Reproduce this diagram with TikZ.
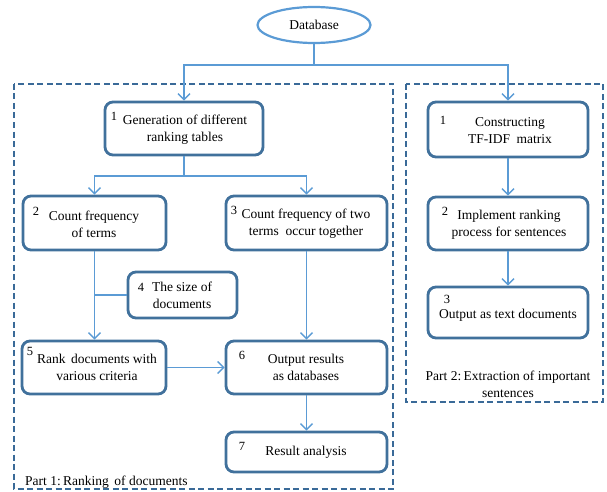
\documentclass[tikz,border=0pt]{standalone}
\usepackage{fontspec}
\setmainfont{Liberation Serif}
\usetikzlibrary{arrows.meta,shapes.geometric}
\definecolor{boxblue}{HTML}{41719C}
\definecolor{linkblue}{HTML}{5B9BD5}
\definecolor{frameblue}{HTML}{3A6A98}
\begin{document}
\begin{tikzpicture}[x=1pt,y=-1pt,
  every node/.style={font=\fontsize{13.5}{17}\selectfont, text=black},
  stepbox/.style={draw=boxblue, line width=2.8pt, rounded corners=8pt, fill=white, inner sep=0pt},
  link/.style={draw=linkblue, line width=1.4pt},
  arr/.style={link, -{Straight Barb[length=6pt,width=12pt,line width=1.4pt]}},
  frame/.style={draw=frameblue, line width=1.2pt, dash pattern=on 6pt off 3.5pt},
  num/.style={inner sep=0pt, font=\fontsize{12.5}{14}\selectfont},
  txt/.style={inner sep=0pt, align=center}]
\useasboundingbox (0,0) rectangle (607,492);
% frames
\draw[frame] (14,84) rectangle (393,489);
\draw[frame] (406,84) rectangle (603,402);
% database
\node[ellipse, draw=linkblue, line width=2.2pt, minimum width=113pt, minimum height=36pt, inner sep=0pt] (db) at (314,25) {Database};
% part 1 boxes
\node[stepbox, minimum width=158pt, minimum height=53pt] (b1) at (184,128.5) {};
\node[stepbox, minimum width=143pt, minimum height=54pt] (b2) at (94.5,223) {};
\node[stepbox, minimum width=161pt, minimum height=54pt] (b3) at (306.5,223) {};
\node[stepbox, minimum width=109pt, minimum height=46pt] (b4) at (182.5,295) {};
\node[stepbox, minimum width=144pt, minimum height=53pt] (b5) at (94,367.5) {};
\node[stepbox, minimum width=161pt, minimum height=53pt] (b6) at (306.5,367.5) {};
\node[stepbox, minimum width=161pt, minimum height=40pt] (b7) at (306.5,452) {};
% part 2 boxes
\node[stepbox, minimum width=160pt, minimum height=55pt] (r1) at (508,129.5) {};
\node[stepbox, minimum width=160pt, minimum height=53pt] (r2) at (508,223.5) {};
\node[stepbox, minimum width=160pt, minimum height=51pt] (r3) at (508,312.5) {};
% texts
\node[txt] (t1) at (185,129.5) {Generation of different\\ranking tables};
\node[txt] (t2) at (94,224) {Count frequency\\of terms};
\node[txt] (t3) at (306,224) {Count frequency of two\\terms\ \ occur together};
\node[txt] (t4) at (182,295) {The size of\\documents};
\node[txt] (t5) at (97,367.5) {Rank\ \,documents with\\various criteria};
\node[txt] (t6) at (306,367.5) {Output results\\as databases};
\node[txt] (t7) at (306,452) {Result analysis};
\node[txt] (u1) at (510,130.5) {Constructing\\TF-IDF\ \ matrix};
\node[txt] (u2) at (509,224.5) {Implement ranking\\process for sentences};
\node[txt] (u3) at (508,315) {Output as text documents};
% numbers
\node[num] (n1) at (114,116) {1};
\node[num] (n2) at (36,211) {2};
\node[num] (n3) at (234,210) {3};
\node[num] (n4) at (141,287) {4};
\node[num] (n5) at (30,351) {5};
\node[num] (n6) at (242,355) {6};
\node[num] (n7) at (242,446) {7};
\node[num] (m1) at (443,120) {1};
\node[num] (m2) at (445,211) {2};
\node[num] (m3) at (447,299) {3};
% captions
\node[txt, anchor=west] (c1) at (25,482) {Part 1:\,Ranking\ \,of documents};
\node[txt] (c2) at (508,384) {Part 2:\,Extraction of important\\sentences};
% connectors
\coordinate (j0) at (314,65);
\coordinate (j1) at (184,176);
\draw[link] (db.south) -- (j0);
\draw[arr] (j0) -| (b1.north);
\draw[arr] (j0) -| (r1.north);
\draw[link] (b1.south) -- (j1);
\draw[arr] (j1) -| (b2.north);
\draw[arr] (j1) -| (b3.north);
\draw[arr] (b2.south) -- (b2.south |- b5.north);
\draw[link] (b4.west) -- (b4.west -| b2.south);
\draw[arr] (b3.south) -- (b6.north);
\draw[arr] (b5.east) -- (b6.west);
\draw[arr] (b6.south) -- (b7.north);
\draw[arr] (r1.south) -- (r2.north);
\draw[arr] (r2.south) -- (r3.north);
\end{tikzpicture}
\end{document}
